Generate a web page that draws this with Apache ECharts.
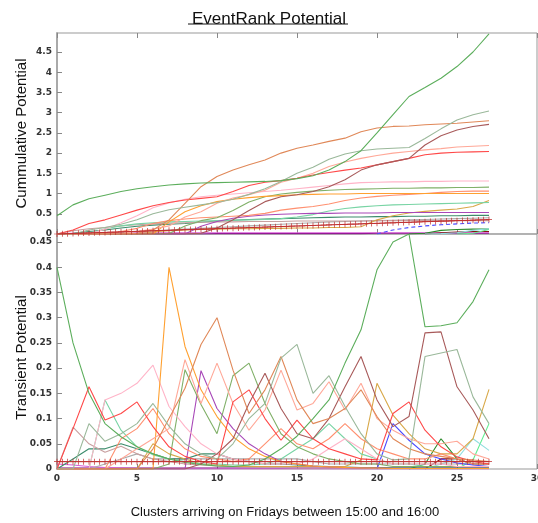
<!DOCTYPE html>
<html><head><meta charset="utf-8">
<script src="https://cdn.jsdelivr.net/npm/echarts@6/dist/echarts.min.js"></script>
<style>html,body{margin:0;padding:0;background:#fff}#c{width:538px;height:523px}</style>
</head><body><div id="c"></div>
<script>
// x positions (clusters)
const xs = [0,1,2,3,4,5,6,7,8,9,10,11,12,13,14,15,16,17,18,19,20,21,22,23,24,25,26,27];
const xTicks = [0,5,10,15,20,25,30];
const cumTicks = [0,0.5,1,1.5,2,2.5,3,3.5,4,4.5];
const transTicks = [0,0.05,0.1,0.15,0.2,0.25,0.3,0.35,0.4,0.45];
const N = null;

// Transient (T) and cumulative (C) values per cluster series
const greenT = [0.40,0.25,0.15,0.09,0.064,0.044,0.03,0.02,0.013,0.009,0.006,0.005,0.008,0.02,0.04,0.065,0.10,0.137,0.21,0.276,0.395,0.45,0.466,0.282,0.284,0.29,0.332,0.395];
const greenC = [0.45,0.72,0.87,0.96,1.05,1.12,1.17,1.21,1.24,1.26,1.27,1.28,1.29,1.3,1.32,1.37,1.44,1.58,1.79,2.06,2.5,2.95,3.4,3.62,3.85,4.14,4.5,4.95];
const grayGreenT = [0,0,0.09,0.055,0.07,0.09,0.13,0.085,0.05,0.03,0.02,0.05,0.1,0.13,0.22,0.247,0.15,0.185,0.124,0.07,0.03,0.018,0.02,0.223,0.23,0.237,0.143,0.09];
const grayGreenC = [0,0,0.1,0.16,0.24,0.35,0.5,0.6,0.66,0.72,0.78,0.86,0.98,1.12,1.3,1.5,1.65,1.85,1.98,2.06,2.1,2.12,2.14,2.36,2.6,2.82,2.95,3.04];
const chocolateT = [0,0,0,0,0,0,0.04,0.1,0.16,0.247,0.30,0.196,0.11,0.157,0.223,0.137,0.09,0.1,0.12,0.157,0.104,0.06,0.04,0.03,0.025,0.02,0.018,0.015];
const chocolateC = [0,0,0,0,0,0.02,0.1,0.35,0.76,1.17,1.42,1.58,1.71,1.83,2.0,2.12,2.2,2.29,2.37,2.53,2.62,2.66,2.67,2.7,2.72,2.74,2.77,2.8];
const brownT = [0,0,0,0,0,0,0,0,0,0.01,0.03,0.06,0.13,0.19,0.12,0.07,0.06,0.1,0.163,0.223,0.137,0.084,0.104,0.27,0.272,0.163,0.117,0.06];
const brownC = [0,0,0,0,0,0,0,0,0,0.02,0.15,0.35,0.58,0.8,0.92,0.97,1.05,1.17,1.34,1.58,1.71,1.79,1.87,2.2,2.43,2.57,2.66,2.71];
const salmonT = [0,0,0,0,0.02,0.04,0.06,0.08,0.217,0.13,0.21,0.13,0.077,0.117,0.196,0.117,0.13,0.173,0.117,0.17,0.1,0.077,0.06,0.05,0.05,0.055,0.03,0.02];
const salmonC = [0,0,0,0,0.02,0.06,0.12,0.2,0.42,0.55,0.76,0.89,0.97,1.08,1.28,1.38,1.5,1.67,1.78,1.87,1.94,2.0,2.04,2.08,2.11,2.15,2.17,2.19];
const redT = [0,0.08,0.163,0.097,0.11,0.133,0.084,0.044,0.025,0.015,0.01,0.133,0.157,0.1,0.057,0.097,0.06,0.04,0.03,0.02,0.018,0.11,0.133,0.077,0.044,0.024,0.015,0.01];
const redC = [0,0.1,0.26,0.35,0.47,0.59,0.7,0.78,0.84,0.88,0.92,1.05,1.2,1.28,1.32,1.38,1.46,1.52,1.58,1.63,1.71,1.79,1.87,1.96,2.0,2.02,2.03,2.04];
const pinkT = [0,0,0,0.137,0.15,0.17,0.206,0.124,0.084,0.05,0.03,0.02,0.015,0.01,0.01,0.01,0.02,0.04,0.06,0.04,0.02,0.01,0.01,0.01,0.01,0.005,0.005,0.005];
const pinkC = [0,0,0,0.12,0.28,0.45,0.65,0.77,0.86,0.92,0.96,0.99,1.02,1.05,1.08,1.12,1.16,1.2,1.24,1.27,1.28,1.29,1.29,1.3,1.3,1.31,1.31,1.31];
const oliveT = [0,0,0,0,0,0,0,0.01,0.197,0.128,0.07,0.185,0.21,0.13,0.07,0.044,0.03,0.02,0.015,0.01,0.01,0.005,0.005,0.005,0.005,0.005,0.005,0.005];
const oliveC = [0,0,0,0,0,0,0,0.01,0.2,0.33,0.4,0.58,0.79,0.92,0.99,1.03,1.06,1.08,1.1,1.11,1.12,1.13,1.13,1.14,1.14,1.15,1.15,1.16];
const coralT = [0,0,0,0,0.06,0.08,0.12,0.07,0.04,0.025,0.02,0.015,0.02,0.05,0.08,0.05,0.04,0.06,0.09,0.06,0.04,0.03,0.02,0.02,0.03,0.02,0.01,0.01];
const coralC = [0,0,0,0,0.06,0.14,0.26,0.33,0.37,0.4,0.42,0.44,0.46,0.51,0.59,0.64,0.68,0.74,0.83,0.89,0.93,0.96,0.98,1.0,1.03,1.05,1.06,1.06];
const orangeT = [0,0,0,0,0,0,0,0.40,0.243,0.157,0.104,0.064,0.04,0.025,0.015,0.01,0.006,0.004,0.003,0.002,0.002,0.001,0.001,0.001,0.001,0.001,0.001,0.001];
const orangeC = [0,0,0,0,0,0,0,0.3,0.55,0.7,0.8,0.86,0.9,0.93,0.95,0.97,0.98,0.99,0.99,1.0,1.0,1.0,1.0,1.0,1.0,1.0,1.0,1.0];
const mintT = [0,0,0,0.137,0.077,0.044,0.028,0.02,0.015,0.01,0.01,0.008,0.008,0.01,0.02,0.04,0.06,0.09,0.06,0.03,0.02,0.01,0.01,0.005,0.005,0.005,0.005,0.005];
const mintC = [0,0,0,0.13,0.2,0.25,0.28,0.3,0.31,0.32,0.33,0.34,0.35,0.36,0.38,0.42,0.48,0.57,0.63,0.67,0.7,0.72,0.73,0.74,0.75,0.76,0.77,0.78];
const goldT = [0,0,0,0,0,0,0.05,0.03,0.02,0.01,0.008,0.005,0.005,0.005,0.005,0.005,0.005,0.005,0.005,0.018,0.17,0.107,0.07,0.04,0.03,0.03,0.06,0.158];
const goldC = [0,0,0,0,0,0,0.05,0.08,0.1,0.11,0.12,0.13,0.13,0.14,0.14,0.15,0.15,0.16,0.16,0.18,0.35,0.45,0.52,0.56,0.59,0.62,0.68,0.83];
const purpleT = [0,0,0,0,0,0,0,0,0,0.195,0.12,0.08,0.05,0.03,0.015,0.01,0.006,0.004,0.003,0.002,0.002,0.001,0.001,0.001,0.001,0.001,0.001,0.001];
const purpleC = [0,0,0,0,0,0,0,0,0,0.19,0.31,0.39,0.44,0.47,0.49,0.5,0.51,0.51,0.52,0.52,0.52,0.53,0.53,0.53,0.53,0.53,0.53,0.53];
const tealT = [0,0.02,0.04,0.04,0.05,0.04,0.03,0.02,0.02,0.03,0.03,0.02,0.015,0.01,0.01,0.008,0.006,0.005,0.004,0.003,0.003,0.002,0.002,0.002,0.002,0.002,0.002,0.002];
const tealC = [0,0.02,0.06,0.1,0.15,0.19,0.22,0.24,0.26,0.29,0.32,0.34,0.36,0.37,0.38,0.39,0.4,0.41,0.42,0.42,0.43,0.43,0.44,0.44,0.45,0.45,0.46,0.46];
const grayT = [0,0,0,0.01,0.02,0.03,0.02,0.02,0.02,0.02,0.02,0.02,0.02,0.02,0.02,0.02,0.015,0.01,0.01,0.01,0.01,0.01,0.01,0.01,0.01,0.01,0.01,0.01];
const grayC = [0,0,0,0.01,0.03,0.06,0.08,0.1,0.12,0.14,0.16,0.18,0.2,0.22,0.24,0.26,0.28,0.3,0.31,0.32,0.33,0.34,0.35,0.36,0.37,0.38,0.39,0.40];
const rosyT = [0,0.083,0.05,0.033,0.045,0.03,0.02,0.015,0.01,0.008,0.006,0.005,0.004,0.003,0.003,0.002,0.002,0.002,0.002,0.002,0.001,0.001,0.001,0.001,0.001,0.001,0.001,0.001];
const rosyC = [0,0.08,0.13,0.16,0.2,0.23,0.25,0.27,0.28,0.29,0.3,0.3,0.31,0.31,0.31,0.32,0.32,0.32,0.32,0.32,0.33,0.33,0.33,0.33,0.33,0.33,0.33,0.33];
const blueT = [N,N,N,N,N,N,N,N,N,N,N,N,N,N,N,N,N,N,N,N,0,0.09,0.057,0.03,0.02,0.012,0.008,0.005];
const blueC = [N,N,N,N,N,N,N,N,N,N,N,N,N,N,N,N,N,N,N,N,0,0.1,0.16,0.2,0.23,0.25,0.27,0.28];
const darkGreenT = [N,N,N,N,N,N,N,N,N,N,N,N,N,N,N,N,N,N,N,N,N,N,0,0.01,0.06,0.02,0.01,0.01];
const darkGreenC = [N,N,N,N,N,N,N,N,N,N,N,N,N,N,N,N,N,N,N,N,N,N,0,0.02,0.09,0.11,0.12,0.12];
const darkRedT = [N,N,N,N,N,N,N,N,N,N,N,N,N,N,N,N,N,N,N,N,N,N,N,0,0.02,0.02,0.01,0.01];
const darkRedC = [N,N,N,N,N,N,N,N,N,N,N,N,N,N,N,N,N,N,N,N,N,N,N,0,0.03,0.05,0.06,0.06];
const magentaT = [0.01,0.008,0.005,0.003,0.002,0.001,0.001,0,0,0,0,0,0,0,0,0,0,0,0,0,0,0,0,0,0,0,0,0];
const magentaC = [0.01,0.02,0.02,0.03,0.03,0.03,0.03,0.03,0.03,0.03,0.03,0.03,0.03,0.03,0.03,0.03,0.03,0.03,0.03,0.03,0.03,0.03,0.03,0.03,0.03,0.03,0.03,0.03];
const darkPurpleT = [0.002,0.002,0.002,0.002,0.002,0.002,0.002,0.002,0.002,0.002,0.002,0.002,0.002,0.002,0.002,0.002,0.002,0.002,0.002,0.002,0.002,0.002,0.002,0.002,0.002,0.002,0.002,0.002];
const darkPurpleC = [0,0,0,0,0,0,0,0,0,0,0.01,0.01,0.01,0.01,0.01,0.01,0.01,0.01,0.01,0.01,0.02,0.02,0.02,0.02,0.02,0.02,0.02,0.02];
const cyanT = [N,N,N,N,N,N,N,N,N,N,N,N,N,N,N,N,N,N,N,N,N,N,N,0,0.01,0.02,0.06,0.037];
const cyanC = [N,N,N,N,N,N,N,N,N,N,N,N,N,N,N,N,N,N,N,N,N,N,N,0,0.01,0.03,0.09,0.13];
const springT = [N,N,N,N,N,N,N,N,N,N,N,N,N,N,N,N,N,N,N,N,N,N,N,N,N,0,0.018,0.09];
const springC = [N,N,N,N,N,N,N,N,N,N,N,N,N,N,N,N,N,N,N,N,N,N,N,N,N,0,0.02,0.11];

// cross-marked series, sampled three times per cluster
const crossT = [0.0145,0.0145,0.0145,0.0145,0.0145,0.0145,0.0145,0.0145,0.0145,0.0145,0.0145,0.0145,0.0145,0.0145,0.0145,0.0145,0.0145,0.0145,0.0145,0.0145,0.0145,0.0145,0.0145,0.0145,0.0145,0.0145,0.0145,0.0145,0.0145,0.0145,0.0145,0.0145,0.0145,0.0145,0.0145,0.0145,0.0145,0.0145,0.0145,0.0145,0.0145,0.0145,0.0145,0.0145,0.0145,0.0145,0.0145,0.0145,0.0145,0.0145,0.0145,0.0145,0.0145,0.0145,0.0145,0.0145,0.0145,0.0145,0.0145,0.0145,0.0145,0.0145,0.0145,0.0145,0.0145,0.0145,0.0145,0.0145,0.0145,0.0145,0.0145,0.0145,0.0145,0.0145,0.0145,0.0145,0.0145,0.0145,0.0145,0.0145,0.0145,0.0145];
const crossC = [0,0.004,0.009,0.013,0.018,0.022,0.026,0.031,0.035,0.04,0.044,0.048,0.053,0.057,0.062,0.066,0.07,0.075,0.079,0.084,0.088,0.092,0.097,0.101,0.106,0.11,0.114,0.119,0.123,0.128,0.132,0.136,0.141,0.145,0.15,0.154,0.158,0.163,0.167,0.172,0.176,0.18,0.185,0.189,0.194,0.198,0.202,0.207,0.211,0.216,0.22,0.224,0.229,0.233,0.238,0.242,0.246,0.251,0.255,0.26,0.264,0.268,0.273,0.277,0.282,0.286,0.29,0.295,0.299,0.304,0.308,0.312,0.317,0.321,0.326,0.33,0.334,0.339,0.343,0.348,0.352,0.356];

const lines = [
  {t: darkPurpleT, c: darkPurpleC, color: '#800080'},
  {t: magentaT, c: magentaC, color: '#d860d8'},
  {t: darkRedT, c: darkRedC, color: '#8a1010'},
  {t: darkGreenT, c: darkGreenC, color: '#2a8a2a'},
  {t: springT, c: springC, color: '#60ee90'},
  {t: cyanT, c: cyanC, color: '#90dede'},
  {t: grayT, c: grayC, color: '#acacac'},
  {t: tealT, c: tealC, color: '#3c8c6c'},
  {t: rosyT, c: rosyC, color: '#c8a0a0'},
  {t: blueT, c: blueC, color: '#4a4aff', dashTop: true},
  {t: goldT, c: goldC, color: '#d8a848'},
  {t: mintT, c: mintC, color: '#78d4a4'},
  {t: purpleT, c: purpleC, color: '#a848b8'},
  {t: coralT, c: coralC, color: '#ff9070'},
  {t: oliveT, c: oliveC, color: '#80b068'},
  {t: pinkT, c: pinkC, color: '#ffb4c8'},
  {t: orangeT, c: orangeC, color: '#ffa030'},
  {t: salmonT, c: salmonC, color: '#ffa898'},
  {t: redT, c: redC, color: '#ff4848'},
  {t: brownT, c: brownC, color: '#a85a5a'},
  {t: chocolateT, c: chocolateC, color: '#e08858'},
  {t: grayGreenT, c: grayGreenC, color: '#9ab89a'},
  {t: greenT, c: greenC, color: '#5cae5c'}
];

const pair = (vals) => vals.map((v, i) => [xs[i], v]);
const pairThird = (vals) => vals.map((v, i) => [i / 3, v]);
const crossSymbol = 'path://M0,4.4H10V5.6H0Z M4.4,0H5.6V10H4.4Z';

const series = [];
lines.forEach(l => {
  series.push({type: 'line', xAxisIndex: 0, yAxisIndex: 0, data: pair(l.c), showSymbol: false, symbol: 'none',
    lineStyle: {color: l.color, width: 1.1, type: l.dashTop ? [4, 3] : 'solid'}, itemStyle: {color: l.color}, silent: true});
  series.push({type: 'line', xAxisIndex: 2, yAxisIndex: 1, data: pair(l.t), showSymbol: false, symbol: 'none',
    lineStyle: {color: l.color, width: 1.1}, itemStyle: {color: l.color}, silent: true});
});
series.push({type: 'line', xAxisIndex: 0, yAxisIndex: 0, data: pairThird(crossC), symbol: crossSymbol, symbolSize: 6,
  lineStyle: {color: '#c03030', width: 1}, itemStyle: {color: '#c03030'}, silent: true});
series.push({type: 'line', xAxisIndex: 2, yAxisIndex: 1, data: pairThird(crossT), symbol: crossSymbol, symbolSize: 6,
  lineStyle: {color: '#c03030', width: 1}, itemStyle: {color: '#c03030'}, silent: true});

const lbl = {fontSize: 9, fontWeight: 'bold', fontFamily: 'DejaVu Sans', color: '#333'};
const tick = {show: true, inside: true, length: 5, lineStyle: {color: '#888', width: 1}};
const fmt = v => String(v);

const option = {
  animation: false,
  backgroundColor: '#fff',
  title: {text: 'EventRank Potential', left: 'center', top: 6,
    textStyle: {fontFamily: 'Liberation Sans', fontSize: 17, fontWeight: 'normal', color: '#111'}},
  graphic: [{type: 'line', shape: {x1: 188, y1: 24, x2: 348, y2: 24}, style: {stroke: '#111', lineWidth: 1}}],
  grid: [
    {left: 57, top: 33, width: 480, height: 201, show: true, borderColor: '#999', borderWidth: 1, outerBoundsMode: 'none', containLabel: false},
    {left: 57, top: 234, width: 480, height: 235, show: true, borderColor: '#999', borderWidth: 1, outerBoundsMode: 'none', containLabel: false}
  ],
  xAxis: [
    {type: 'value', gridIndex: 0, min: 0, max: 30, interval: 5, position: 'bottom',
      axisLine: {show: false}, axisTick: tick, axisLabel: {show: false}, splitLine: {show: false}},
    {type: 'value', gridIndex: 0, min: 0, max: 30, interval: 5, position: 'top',
      axisLine: {show: false}, axisTick: tick, axisLabel: {show: false}, splitLine: {show: false}},
    {type: 'value', gridIndex: 1, min: 0, max: 30, interval: 5, position: 'bottom',
      axisLine: {show: false}, axisTick: tick, splitLine: {show: false},
      axisLabel: Object.assign({margin: 5, customValues: xTicks, formatter: fmt}, lbl),
      name: 'Clusters arriving on Fridays between 15:00 and 16:00', nameLocation: 'middle', nameGap: 37, nameMoveOverlap: false,
      nameTextStyle: {fontFamily: 'Liberation Sans', fontSize: 13, color: '#111', padding: [0, 24, 0, 0]}}
  ],
  yAxis: [
    {type: 'value', gridIndex: 0, min: 0, max: 4.97,
      axisLine: {show: true, lineStyle: {color: '#aaa', width: 2}}, axisTick: Object.assign({customValues: cumTicks}, tick),
      axisLabel: Object.assign({margin: 5, customValues: cumTicks, formatter: fmt}, lbl),
      splitLine: {show: false},
      name: 'Cummulative Potential', nameLocation: 'middle', nameGap: 28, nameMoveOverlap: false,
      nameTextStyle: {fontFamily: 'Liberation Sans', fontSize: 15, color: '#111'}},
    {type: 'value', gridIndex: 1, min: 0, max: 0.466,
      axisLine: {show: true, lineStyle: {color: '#aaa', width: 2}}, axisTick: Object.assign({customValues: transTicks}, tick),
      axisLabel: Object.assign({margin: 5, customValues: transTicks, formatter: fmt}, lbl),
      splitLine: {show: false},
      name: 'Transient Potential', nameLocation: 'middle', nameGap: 28, nameMoveOverlap: false,
      nameTextStyle: {fontFamily: 'Liberation Sans', fontSize: 15, color: '#111', padding: [0, 12, 0, 0]}}
  ],
  series: series
};
echarts.init(document.getElementById('c'), null, {renderer: 'canvas'}).setOption(option);
</script>
</body></html>
